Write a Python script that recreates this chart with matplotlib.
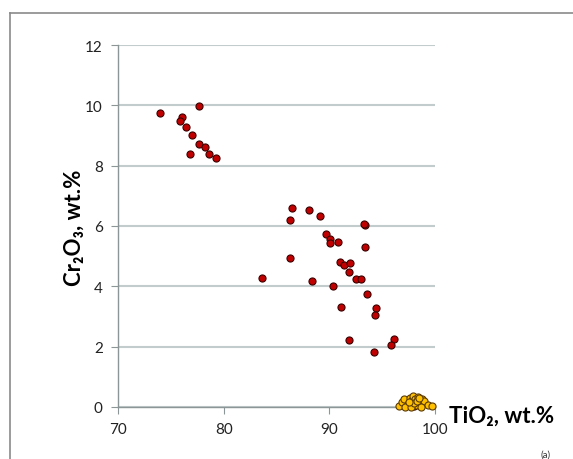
import matplotlib.pyplot as plt
from matplotlib.lines import Line2D

plt.rcParams['font.family'] = ['Lato', 'DejaVu Sans']

# red points (TiO2, Cr2O3)
tio2_a = [74.0, 77.7, 76.1, 75.9, 76.4, 77.0, 77.7, 78.2, 76.8, 78.6, 79.3,
          86.5, 88.1, 86.3, 89.1, 93.4, 93.3, 89.7, 90.1, 90.1, 90.8, 93.4,
          86.3, 91.0, 91.4, 92.0, 91.9, 92.5, 93.0, 83.6, 88.4, 90.3, 93.6,
          91.1, 94.4, 94.3, 91.9, 96.1, 95.8, 94.2,
          97.3, 98.0, 98.6, 97.6]
cr2o3_a = [9.74, 9.98, 9.61, 9.48, 9.28, 9.02, 8.72, 8.62, 8.39, 8.39, 8.25,
           6.60, 6.53, 6.20, 6.33, 6.03, 6.07, 5.73, 5.57, 5.44, 5.47, 5.30,
           4.94, 4.81, 4.71, 4.77, 4.47, 4.24, 4.24, 4.28, 4.18, 4.01, 3.75,
           3.31, 3.28, 3.05, 2.22, 2.25, 2.06, 1.82,
           0.05, 0.02, 0.08, 0.12]

# orange points
tio2_b = [96.6, 96.9, 97.1, 97.4, 97.6, 97.8, 97.9, 98.1, 98.2, 98.4, 98.6,
          98.8, 99.0, 99.3, 99.7, 97.2, 97.7, 98.0, 98.3, 98.7, 97.5, 98.5]
cr2o3_b = [0.02, 0.18, 0.25, 0.10, 0.30, 0.22, 0.38, 0.28, 0.05, 0.33, 0.15,
           0.25, 0.20, 0.05, 0.02, 0.0, 0.0, 0.12, 0.20, 0.0, 0.15, 0.30]

fig = plt.figure(figsize=(5.73, 4.60), dpi=100)
ax = fig.add_axes([118/573, 1-408/460, (435-118)/573, (408-46)/460])

# outer chart frame (cropped at right and bottom)
x0, y0 = 10/573, 1-14/460
fig.add_artist(Line2D([x0, x0], [0, y0], transform=fig.transFigure,
                      color='#8a8a8a', lw=1.2))
fig.add_artist(Line2D([x0, 1], [y0, y0], transform=fig.transFigure,
                      color='#8a8a8a', lw=1.2))

ax.scatter(tio2_a, cr2o3_a, s=26, c='#c00000', edgecolors='#3a0000',
           linewidths=0.8, zorder=3, clip_on=False)
ax.scatter(tio2_b, cr2o3_b, s=26, c='#ffc000', edgecolors='#5a3a00',
           linewidths=0.8, zorder=4, clip_on=False)

ax.set_xlim(70, 100)
ax.set_ylim(0, 12)
ax.set_xticks([70, 80, 90, 100])
ax.set_yticks([0, 2, 4, 6, 8, 10, 12])
ax.grid(axis='y', color='#c3cccc', lw=1.5)
ax.set_axisbelow(True)
for s in ['top', 'right']:
    ax.spines[s].set_visible(False)
for s in ['left', 'bottom']:
    ax.spines[s].set_color('#8c9696')
    ax.spines[s].set_linewidth(1.0)
ax.tick_params(direction='out', length=5, color='#8c9696', labelsize=11,
               labelcolor='#222222', pad=6)

fig.text(74/573, 1-228/460, 'Cr₂O₃, wt.%', rotation=90, fontsize=16,
         fontweight='bold', ha='center', va='center')
fig.text(449/573, 1-416/460, 'TiO₂, wt.%', fontsize=16, fontweight='bold',
         ha='left', va='center')
fig.text(546/573, 1-455/460, '(a)', fontsize=7, ha='center', va='center',
         color='#333333')

fig.savefig('out.png', dpi=100)
